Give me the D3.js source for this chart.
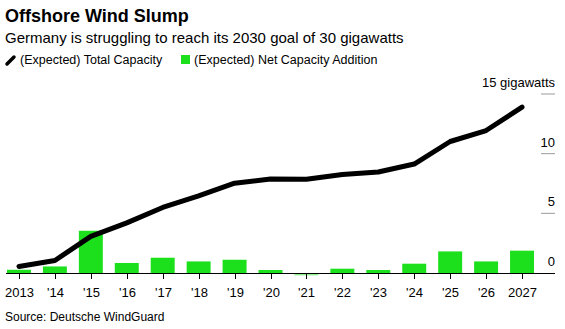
<!DOCTYPE html>
<html>
<head>
<meta charset="utf-8">
<script src="https://cdn.jsdelivr.net/npm/d3@7"></script>
<style>
  body { margin: 0; background: #fff; font-family: "Liberation Sans", Arial, sans-serif; }
  svg text { font-family: "Liberation Sans", Arial, sans-serif; fill: #000; }
</style>
</head>
<body>
<div id="chart"></div>
<script>
var years = ["2013", "'14", "'15", "'16", "'17", "'18", "'19", "'20", "'21", "'22", "'23", "'24", "'25", "'26", "2027"];
var totalCapacity = [0.55, 1.05, 3.07, 4.2, 5.49, 6.47, 7.53, 7.87, 7.85, 8.26, 8.46, 9.13, 11.02, 11.94, 13.9];
var netAddition = [0.27, 0.55, 3.54, 0.84, 1.28, 0.97, 1.11, 0.25, -0.2, 0.36, 0.25, 0.78, 1.81, 0.97, 1.87];
var yTicks = [0, 5, 10, 15];

var width = 565, height = 329;
var green = "#1de01d";

var svg = d3.select("#chart").append("svg")
  .attr("width", width)
  .attr("height", height);

// titles
svg.append("text").attr("x", 5).attr("y", 22)
  .style("font-size", "18px").style("font-weight", "bold")
  .text("Offshore Wind Slump");
svg.append("text").attr("x", 5).attr("y", 43)
  .style("font-size", "15px")
  .text("Germany is struggling to reach its 2030 goal of 30 gigawatts");

// legend
svg.append("line").attr("x1", 7).attr("y1", 64).attr("x2", 14).attr("y2", 57)
  .attr("stroke", "#000").attr("stroke-width", 3.5).attr("stroke-linecap", "round");
svg.append("text").attr("x", 20).attr("y", 64).style("font-size", "12.5px")
  .text("(Expected) Total Capacity");
svg.append("rect").attr("x", 181).attr("y", 55).attr("width", 9).attr("height", 9).attr("fill", green);
svg.append("text").attr("x", 194).attr("y", 64).style("font-size", "12.5px")
  .text("(Expected) Net Capacity Addition");

// scales
var x = d3.scaleBand().domain(years).range([1, 540]).paddingInner(0.333).paddingOuter(0.333 / 2);
var y = d3.scaleLinear().domain([0, 15]).range([273, 94]);

// grid ticks at right
var g = svg.append("g");
yTicks.forEach(function(t) {
  if (t > 0) {
    g.append("line").attr("x1", 541).attr("x2", 555).attr("y1", y(t)).attr("y2", y(t))
      .attr("stroke", "#999").attr("stroke-width", 1);
  }
  g.append("text").attr("x", 555).attr("y", y(t) - 7)
    .attr("text-anchor", "end").style("font-size", "13px")
    .text(t == 15 ? "15 gigawatts" : t);
});

// bars
svg.append("g").selectAll("rect")
  .data(netAddition)
  .enter().append("rect")
  .attr("x", function(d, i) { return x(years[i]); })
  .attr("width", x.bandwidth())
  .attr("y", function(d) { return d >= 0 ? y(d) : y(0); })
  .attr("height", function(d) { return Math.abs(y(d) - y(0)); })
  .attr("fill", function(d) { return d >= 0 ? green : "#8ef08e"; });

// x axis
var xAxis = svg.append("g").attr("transform", "translate(0," + y(0) + ")");
xAxis.append("line").attr("x1", 6).attr("x2", 555).attr("y1", 0.5).attr("y2", 0.5)
  .attr("stroke", "#000").attr("stroke-width", 1);
years.forEach(function(yr) {
  var cx = Math.round(x(yr) + x.bandwidth() / 2) + 0.5;
  xAxis.append("line").attr("x1", cx).attr("x2", cx).attr("y1", 0).attr("y2", 6)
    .attr("stroke", "#000").attr("stroke-width", 1);
  xAxis.append("text").attr("x", cx).attr("y", 24).attr("text-anchor", "middle")
    .style("font-size", "13px").text(yr);
});

// line
var line = d3.line()
  .x(function(d, i) { return x(years[i]) + x.bandwidth() / 2; })
  .y(function(d) { return y(d); });
svg.append("path").datum(totalCapacity)
  .attr("d", line)
  .attr("fill", "none")
  .attr("stroke", "#000")
  .attr("stroke-width", 5)
  .attr("stroke-linejoin", "round")
  .attr("stroke-linecap", "round");

// source
svg.append("text").attr("x", 5).attr("y", 321).style("font-size", "12px")
  .text("Source: Deutsche WindGuard");
</script>
</body>
</html>
